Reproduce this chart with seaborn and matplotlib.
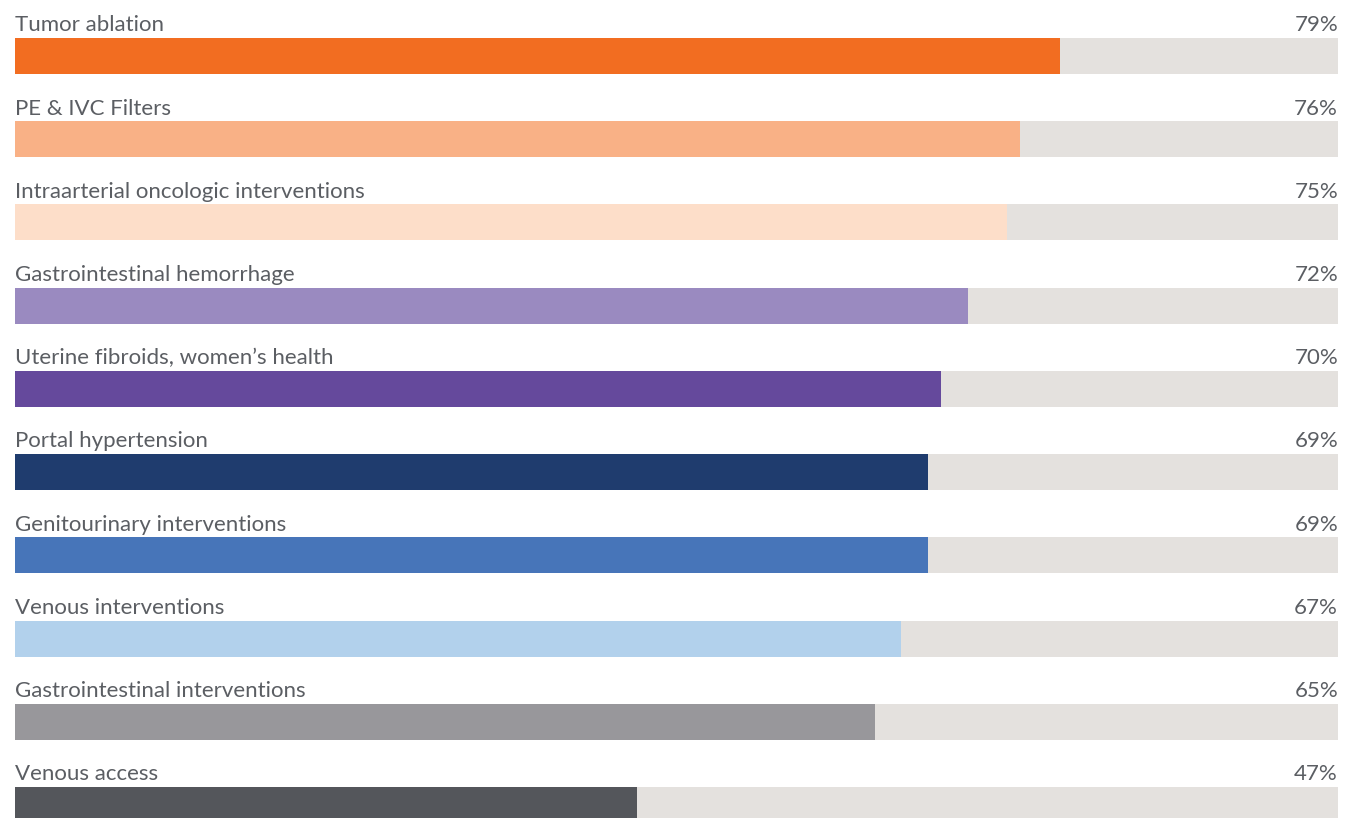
import pandas as pd
import matplotlib
matplotlib.use('Agg')
import matplotlib.pyplot as plt
import seaborn as sns

# data
categories = [
    "Tumor ablation",
    "PE & IVC Filters",
    "Intraarterial oncologic interventions",
    "Gastrointestinal hemorrhage",
    "Uterine fibroids, women\u2019s health",
    "Portal hypertension",
    "Genitourinary interventions",
    "Venous interventions",
    "Gastrointestinal interventions",
    "Venous access",
]
values = [79, 76, 75, 72, 70, 69, 69, 67, 65, 47]
colors = ["#F26D21", "#F9B186", "#FDDEC9", "#9A8AC0", "#65499C",
          "#1F3C6E", "#4775B9", "#B2D1EC", "#98979B", "#54565B"]
track = "#E4E1DE"
text_color = "#5B5E63"

df = pd.DataFrame({"category": categories, "value": values, "full": [100] * len(values)})

sns.set_style("white")
plt.rcParams['font.family'] = ['Lato', 'DejaVu Sans']

fig = plt.figure(figsize=(13.45, 8.18), dpi=100)
ax = fig.add_axes([15 / 1345, 0, 1323 / 1345, 1])

bar_h = 0.433
# grey track behind every bar
sns.barplot(data=df, x="full", y="category", orient="h", color=track,
            width=bar_h, ax=ax, saturation=1, linewidth=0)
sns.barplot(data=df, x="value", y="category", hue="category", palette=colors,
            orient="h", width=bar_h, ax=ax, saturation=1, legend=False,
            linewidth=0)

ax.set_xlim(0, 100)
ax.set_ylim(9.156, -0.673)
ax.axis("off")

for i, (cat, val) in enumerate(zip(categories, values)):
    y_text = i - bar_h / 2 - 0.08
    ax.text(0, y_text, cat, ha="left", va="baseline", fontsize=16,
            color=text_color)
    ax.text(100, y_text, f"{val}%", ha="right", va="baseline", fontsize=16,
            color=text_color)

fig.savefig("out.png", dpi=100)
plt.close(fig)
